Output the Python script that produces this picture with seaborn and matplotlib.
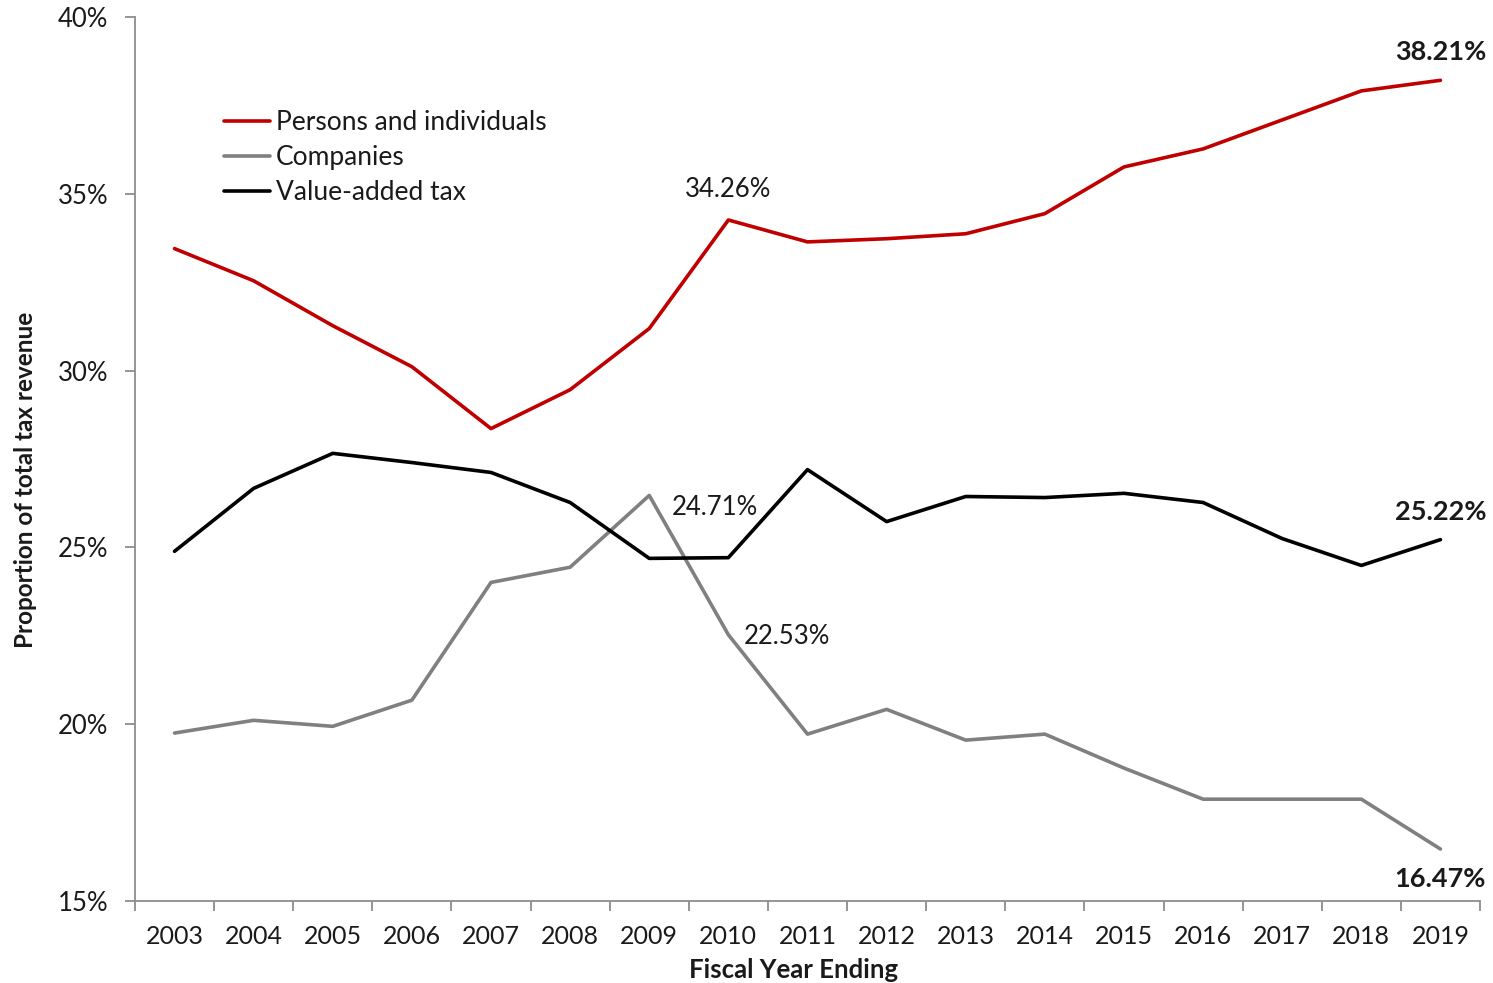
import numpy as np
import pandas as pd
import matplotlib
matplotlib.use("Agg")
import matplotlib.pyplot as plt
import seaborn as sns
from matplotlib.ticker import FixedLocator, FuncFormatter

years = list(range(2003, 2020))
persons = [33.45, 32.54, 31.27, 30.11, 28.36, 29.46, 31.19, 34.26, 33.64, 33.73,
           33.87, 34.44, 35.76, 36.27, 37.09, 37.91, 38.21]
companies = [19.75, 20.11, 19.94, 20.68, 24.01, 24.44, 26.47, 22.53, 19.72, 20.42,
             19.55, 19.72, 18.76, 17.88, 17.88, 17.88, 16.47]
vat = [24.89, 26.67, 27.66, 27.40, 27.12, 26.27, 24.69, 24.71, 27.20, 25.73,
       26.44, 26.41, 26.53, 26.27, 25.25, 24.49, 25.22]
series_names = ["Persons and individuals", "Companies", "Value-added tax"]
colors = ["#C00000", "#808080", "#000000"]
y_ticks = [15, 20, 25, 30, 35, 40]

df = pd.DataFrame({
    "year": years * 3,
    "value": persons + companies + vat,
    "series": [series_names[0]] * len(years) + [series_names[1]] * len(years) + [series_names[2]] * len(years),
})

sns.set_theme(style="white")
plt.rcParams["font.family"] = ["Lato", "DejaVu Sans"]

fig = plt.figure(figsize=(14.93, 9.83), dpi=100)
ax = fig.add_axes([0.0904, 0.0834, 0.9009, 0.8993])

sns.lineplot(data=df, x="year", y="value", hue="series", hue_order=series_names,
             palette=colors, linewidth=2.6, ax=ax, legend=True)

ax.set_xlim(2002.5, 2019.5)
ax.set_ylim(15, 40)

ax.xaxis.set_major_locator(FixedLocator(years))
ax.xaxis.set_minor_locator(FixedLocator([y - 0.5 for y in years] + [2019.5]))
ax.set_xticklabels([str(y) for y in years])
ax.tick_params(axis="x", which="major", length=0, pad=17, labelsize=18, labelcolor="#1a1a1a")
ax.tick_params(axis="x", which="minor", length=7, width=1.3, color="#8c8c8c", direction="out", bottom=True)

ax.yaxis.set_major_locator(FixedLocator(y_ticks))
ax.yaxis.set_major_formatter(FuncFormatter(lambda v, p: f"{int(v)}%"))
ax.tick_params(axis="y", which="major", length=7, width=1.3, color="#8c8c8c", direction="out",
               left=True, labelsize=18.5, labelcolor="#1a1a1a", pad=12)

for s in ["top", "right"]:
    ax.spines[s].set_visible(False)
for s in ["left", "bottom"]:
    ax.spines[s].set_color("#8c8c8c")
    ax.spines[s].set_linewidth(1.3)

ax.set_xlabel("Fiscal Year Ending", fontsize=18.5, fontweight="bold", color="#1a1a1a", labelpad=6)
ax.xaxis.set_label_coords(0.49, -0.065)
ax.set_ylabel("Proportion of total tax revenue", fontsize=17.5, fontweight="bold", color="#1a1a1a")
ax.yaxis.set_label_coords(-0.073, 0.476)

leg = ax.legend(loc="upper left", bbox_to_anchor=(0.058, 0.907), frameon=False, fontsize=19,
                handlelength=1.75, handletextpad=0.22, labelspacing=0.38, borderaxespad=0)
for t in leg.get_texts():
    t.set_color("#1a1a1a")

# annotations
ax.text(2010, persons[7] + 0.5, f"{persons[7]:.2f}%", ha="center", va="bottom", fontsize=18.5, color="#1a1a1a")
ax.text(2009.83, 26.13, f"{vat[7]:.2f}%", ha="center", va="center", fontsize=18.5, color="#1a1a1a")
ax.text(2010.2, companies[7] - 0.05, f"{companies[7]:.2f}%", ha="left", va="center", fontsize=18.5, color="#1a1a1a")
ax.text(2019, persons[-1] + 0.45, f"{persons[-1]:.2f}%", ha="center", va="bottom", fontsize=19.5,
        fontweight="bold", color="#1a1a1a")
ax.text(2019, vat[-1] + 0.45, f"{vat[-1]:.2f}%", ha="center", va="bottom", fontsize=19.5,
        fontweight="bold", color="#1a1a1a")
ax.text(2019, companies[-1] - 0.5, f"{companies[-1]:.2f}%", ha="center", va="top", fontsize=19.5,
        fontweight="bold", color="#1a1a1a")

fig.savefig("out.png", dpi=100)
